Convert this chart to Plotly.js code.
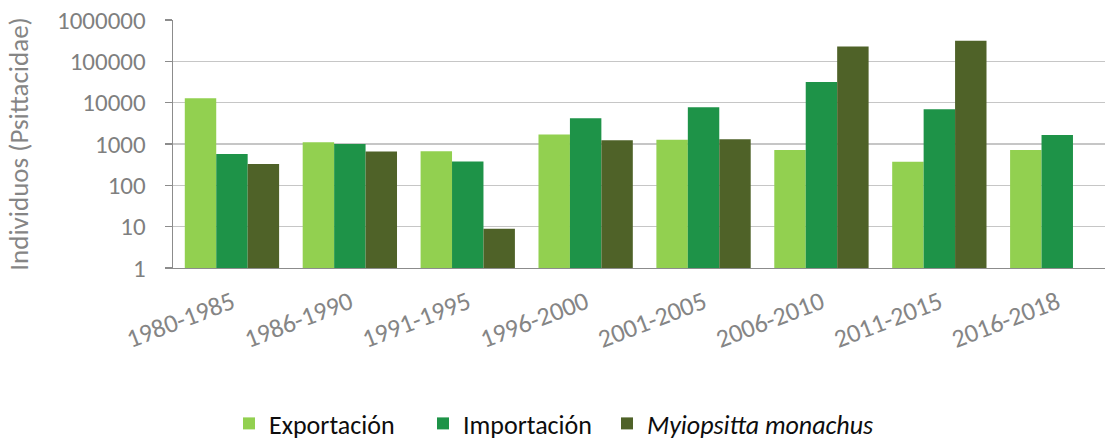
<!DOCTYPE html>
<html>
<head>
<meta charset="utf-8">
<script src="https://cdn.plot.ly/plotly-3.0.1.min.js"></script>
<style>html,body{margin:0;padding:0;background:#fff;}#chart{width:1105px;height:441px;}</style>
</head>
<body>
<div id="chart"></div>
<script>
var periods = ["1980-1985","1986-1990","1991-1995","1996-2000","2001-2005","2006-2010","2011-2015","2016-2018"];
var exportacion = [12800, 1100, 670, 1690, 1260, 720, 370, 720];
var importacion = [570, 1000, 376, 4200, 7740, 31600, 6930, 1660];
var myiopsitta = [330, 655, 8.9, 1235, 1306, 230000, 315000, null];
var yTickVals = [1, 10, 100, 1000, 10000, 100000, 1000000];
var yTickText = ["1","10","100","1000","10000","100000","1000000"];

var FONT = "Carlito, Calibri, Lato, 'Open Sans', sans-serif";
var GRAY = "#7f7f7f";

var traces = [
  {type:"bar", name:"Exportación", x:periods, y:exportacion, marker:{color:"#92d050"}, legend:"legend"},
  {type:"bar", name:"Importación", x:periods, y:importacion, marker:{color:"#1e9348"}, legend:"legend"},
  {type:"bar", name:"<i>Myiopsitta monachus</i>", x:periods, y:myiopsitta, marker:{color:"#4f6228"}, legend:"legend2"}
];

var legendFont = {family:FONT, size:26, color:"#0d0d0d"};

var layout = {
  width:1105, height:441,
  margin:{l:173, r:0, t:20, b:173, pad:0, autoexpand:false},
  paper_bgcolor:"#fff", plot_bgcolor:"#fff",
  barmode:"group", bargap:0.2, bargroupgap:0,
  font:{family:FONT, color:GRAY},
  xaxis:{
    type:"category", range:[-0.5, 7.405],
    showline:true, linecolor:"#8c8c8c", linewidth:1.3,
    ticks:"", showgrid:false, zeroline:false,
    tickangle:-21, tickfont:{family:FONT, size:26, color:"#858585"},
    ticklabelstandoff:8,
    automargin:false
  },
  yaxis:{
    type:"log", range:[0, 6],
    tickvals:yTickVals, ticktext:yTickText,
    tickfont:{family:FONT, size:25, color:GRAY},
    ticks:"outside", ticklen:7, tickcolor:"#8c8c8c", tickwidth:1.3,
    ticklabelstandoff:14,
    showline:true, linecolor:"#8c8c8c", linewidth:1.3,
    showgrid:true, gridcolor:"#c6c6c6", gridwidth:1.3,
    zeroline:false,
    title:{text:"Individuos (Psittacidae)", font:{family:FONT, size:27, color:"#858585"}, standoff:20},
    automargin:false
  },
  legend:{
    orientation:"h", x:(229 - 173) / 932, xanchor:"left", y:-0.627, yanchor:"middle",
    font:legendFont,
    entrywidth:149, entrywidthmode:"pixels",
    traceorder:"normal", bgcolor:"rgba(0,0,0,0)"
  },
  legend2:{
    orientation:"h", x:(607 - 173) / 932, xanchor:"left", y:-0.627, yanchor:"middle",
    font:legendFont,
    traceorder:"normal", bgcolor:"rgba(0,0,0,0)"
  },
  showlegend:true
};

Plotly.newPlot("chart", traces, layout, {displayModeBar:false, staticPlot:true});
</script>
</body>
</html>
